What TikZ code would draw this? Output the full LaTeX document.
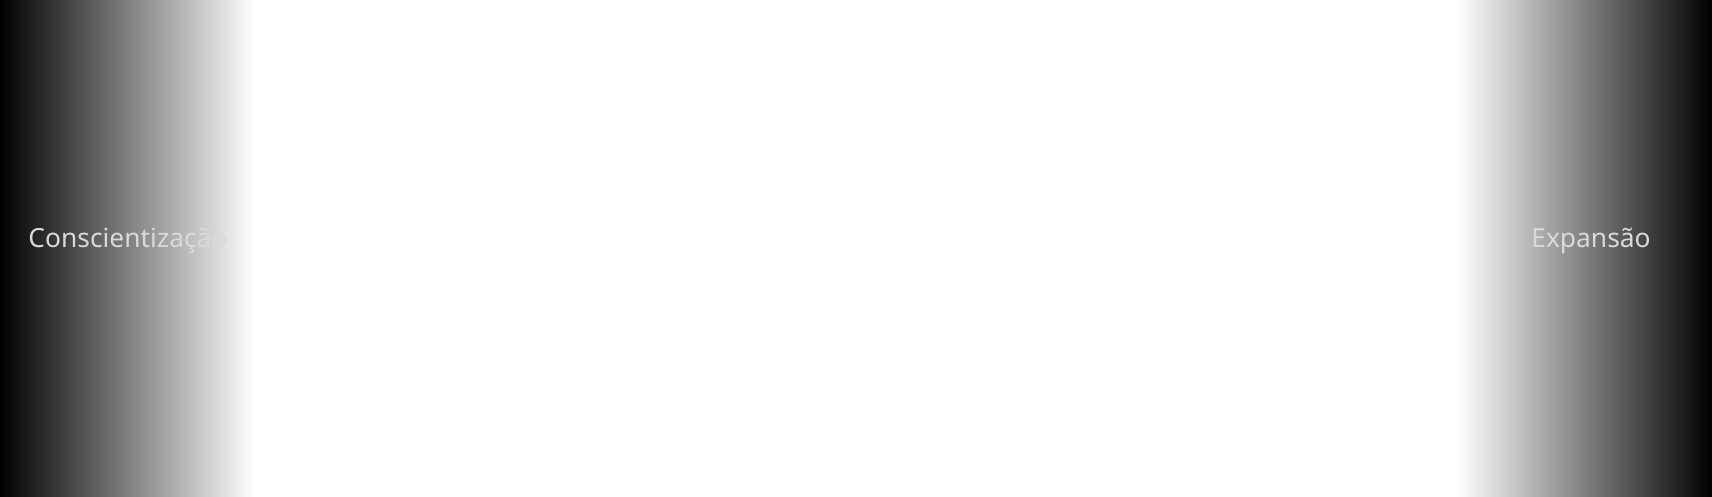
\documentclass[tikz,border=0pt]{standalone}
\usepackage{fontspec}
\setmainfont{Noto Sans}
\begin{document}
\begin{tikzpicture}[x=1cm,y=1cm,
    every node/.style={inner sep=0pt,font=\fontsize{7.5pt}{9pt}\selectfont,text=black!15}]
    % Canvas
    \useasboundingbox (0,0) rectangle (17.12,4.97);
    \fill[white] (0,0) rectangle (17.12,4.97);

    % Gradient bands at both ends
    \shade[left color=black,right color=white] (0,0) rectangle (2.55,4.97);
    \shade[left color=white,right color=black] (14.57,0) rectangle (17.12,4.97);

    % Labels
    \node (consc) at (1.28,2.56) {Conscientização};
    \node (expan) at (15.91,2.56) {Expansão};
  \end{tikzpicture}
\end{document}
